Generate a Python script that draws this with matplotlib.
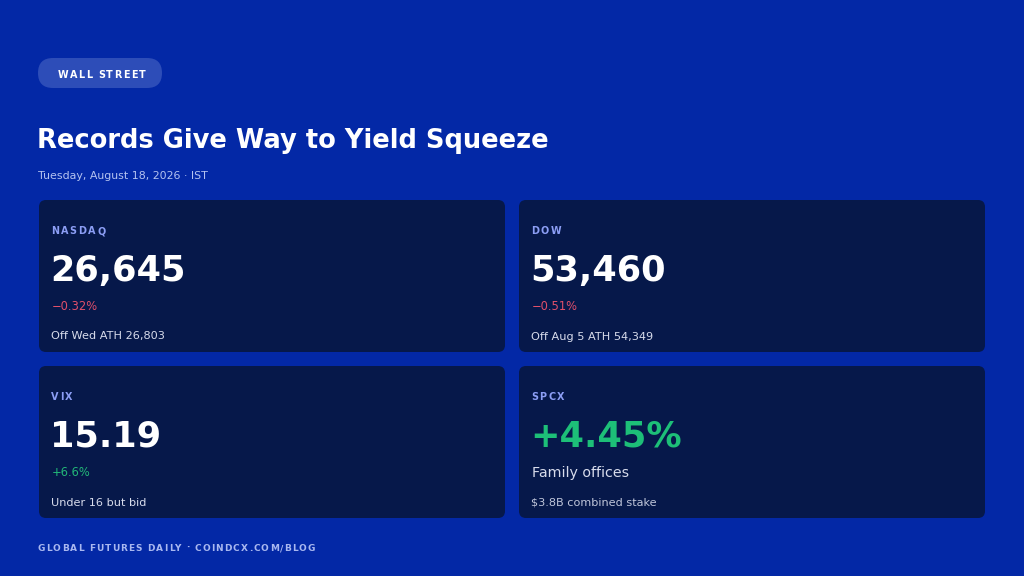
import matplotlib
matplotlib.use("Agg")
import matplotlib.pyplot as plt
from matplotlib.patches import FancyBboxPatch

# ---- data ----
tag = "WALL STREET"
title = "Records Give Way to Yield Squeeze"
subtitle = "Tuesday, August 18, 2026 · IST"
footer = "GLOBAL FUTURES DAILY · COINDCX.COM/BLOG"
card_labels = ["NASDAQ", "DOW", "VIX", "SPCX"]
card_values = ["26,645", "53,460", "15.19", "+4.45%"]
card_changes = ["-0.32%", "-0.51%", "+6.6%", "Family offices"]
card_notes = ["Off Wed ATH 26,803", "Off Aug 5 ATH 54,349", "Under 16 but bid", "$3.8B combined stake"]
change_kind = ["down", "down", "up", "text"]
value_kind = ["plain", "plain", "plain", "up"]

# ---- style ----
BG = "#0328A6"
CARD = "#06184A"
PILL = "#2D4DB8"
LABEL = "#8C9EF5"
RED = "#E0506A"
GREEN = "#22B878"
GREEN_BIG = "#1DBF78"
SUB = "#B4C2F0"
NOTE = "#D8DCEC"
FOOT = "#A9B8F0"
FONT = ["DejaVu Sans"]
DPI = 100

W, H = 1024, 576
fig = plt.figure(figsize=(W / DPI, H / DPI), dpi=DPI, facecolor=BG)
ax = fig.add_axes([0, 0, 1, 1])
ax.set_xlim(0, W)
ax.set_ylim(H, 0)
ax.axis("off")
ax.set_facecolor(BG)

renderer = fig.canvas.get_renderer()


def _w(s, **kw):
    t = ax.text(0, 0, s, **kw)
    w = t.get_window_extent(renderer=renderer).width
    t.remove()
    return w


def fit(s, target, **kw):
    """Font size so that string s spans about target pixels."""
    return 10 * target / _w(s, fontsize=10, **kw)


def spaced_text(x, y, s, spacing, size, **kw):
    """Letter-spaced text: each glyph keeps its natural (kerned) place in the
    whole string, shifted right by k * spacing."""
    fkw = dict(fontsize=size, fontweight="bold", family=FONT)
    for k, c in enumerate(s):
        if c == " ":
            continue
        right = _w(s[:k + 1], **fkw)
        left = right - _w(c, **fkw)
        ax.text(x + left + k * spacing, y, c, ha="left", va="baseline", **fkw, **kw)


B = dict(fontweight="bold", family=FONT)
R = dict(family=FONT)

fs_title = fit(title, 512, **B)
fs_sub = fit(subtitle, 170, **R)
fs_value = fit("26,645", 136, **B)
fs_change = fit("\u22120.32%", 46, **R)
fs_note = fit("Off Wed ATH 26,803", 114, **R)
fs_text = fit("Family offices", 97, **R)
fs_tag = 6.9
fs_label = 6.9
fs_footer = 6.5

# pill
pill = FancyBboxPatch((38, 58), 124, 30, boxstyle="round,pad=0,rounding_size=15",
                      facecolor=PILL, edgecolor="none")
ax.add_patch(pill)
spaced_text(58, 78, tag, 1.3, fs_tag, color="white")

# title
ax.text(37, 148, title, ha="left", va="baseline", color="white", fontsize=fs_title, **B)
ax.text(38, 179, subtitle, ha="left", va="baseline", color=SUB, fontsize=fs_sub, **R)

# cards
positions = [(39, 200), (519, 200), (39, 366), (519, 366)]
cw, ch = 466, 152
for i, (x0, y0) in enumerate(positions):
    card = FancyBboxPatch((x0, y0), cw, ch, boxstyle="round,pad=0,rounding_size=7",
                          facecolor=CARD, edgecolor="none")
    ax.add_patch(card)
    spaced_text(x0 + 12, y0 + 34, card_labels[i], 1.6, fs_label, color=LABEL)
    vcol = GREEN_BIG if value_kind[i] == "up" else "white"
    ax.text(x0 + 11, y0 + 80.5, card_values[i], ha="left", va="baseline", color=vcol,
            fontsize=fs_value, **B)
    if change_kind[i] == "down":
        ax.text(x0 + 13, y0 + 110, card_changes[i].replace("-", "\u2212"), ha="left",
                va="baseline", color=RED, fontsize=fs_change, **R)
    elif change_kind[i] == "up":
        ax.text(x0 + 13, y0 + 110, card_changes[i], ha="left", va="baseline",
                color=GREEN, fontsize=fs_change, **R)
    else:
        ax.text(x0 + 13, y0 + 111, card_changes[i], ha="left", va="baseline",
                color=NOTE, fontsize=fs_text, **R)
    ncol = "#C0C6DA" if change_kind[i] == "text" else NOTE
    ax.text(x0 + 12, y0 + 139.5, card_notes[i], ha="left", va="baseline", color=ncol,
            fontsize=fs_note, **R)

# footer
spaced_text(38, 551, footer, 1.1, fs_footer, color=FOOT)

fig.savefig("out.png", dpi=DPI, facecolor=BG)
